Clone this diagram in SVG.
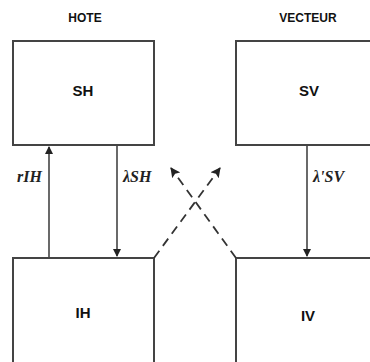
<svg xmlns="http://www.w3.org/2000/svg" width="370" height="362" viewBox="0 0 370 362">
<style>
.box{fill:#fff;stroke:#444;stroke-width:2}
.t{font-family:"Liberation Sans",Arial,sans-serif;font-weight:bold;fill:#111;text-anchor:middle}
.lbl{font-family:"Liberation Serif","Times New Roman",serif;font-style:italic;font-weight:bold;font-size:16px;fill:#222}
.ln{stroke:#444;stroke-width:1.6;fill:none}
.dash{stroke:#333;stroke-width:1.8;fill:none;stroke-dasharray:9,6}
</style>
<defs>
<marker id="ah" markerWidth="8" markerHeight="8" refX="7" refY="4" orient="auto" markerUnits="userSpaceOnUse" viewBox="0 0 8 8">
<path d="M0,0 L8,4 L0,8 Z" fill="#222"/>
</marker>
<marker id="ah2" markerWidth="10" markerHeight="10" refX="9" refY="5" orient="auto" markerUnits="userSpaceOnUse" viewBox="0 0 10 10">
<path d="M0,0 L10,5 L0,10 L2,5 Z" fill="#222"/>
</marker>
</defs>
<rect width="370" height="362" fill="#fff"/>
<text class="t" x="85" y="22" font-size="12">HOTE</text>
<text class="t" x="308" y="22" font-size="12">VECTEUR</text>
<g id="SH"><rect class="box" x="13" y="41" width="141" height="104"/><text class="t" x="83" y="96" font-size="15">SH</text></g>
<g id="SV"><rect class="box" x="236" y="41" width="140" height="104"/><text class="t" x="309" y="96" font-size="15">SV</text></g>
<g id="IH"><rect class="box" x="13" y="258" width="141" height="120"/><text class="t" x="83" y="318" font-size="15">IH</text></g>
<g id="IV"><rect class="box" x="236" y="258" width="140" height="120"/><text class="t" x="308" y="321" font-size="15">IV</text></g>
<g id="connectors">
<line class="ln" x1="49" y1="257" x2="49" y2="147" marker-end="url(#ah)"/>
<line class="ln" x1="117" y1="146" x2="117" y2="256" marker-end="url(#ah)"/>
<line class="ln" x1="307" y1="146" x2="307" y2="256" marker-end="url(#ah)"/>
<line class="dash" x1="154" y1="258" x2="220" y2="168" marker-end="url(#ah2)"/>
<line class="dash" x1="236" y1="258" x2="171" y2="168" marker-end="url(#ah2)"/>
</g>
<text class="lbl" x="17" y="182">rIH</text>
<text class="lbl" x="123" y="182">λSH</text>
<text class="lbl" x="313" y="182">λ'SV</text>
</svg>
